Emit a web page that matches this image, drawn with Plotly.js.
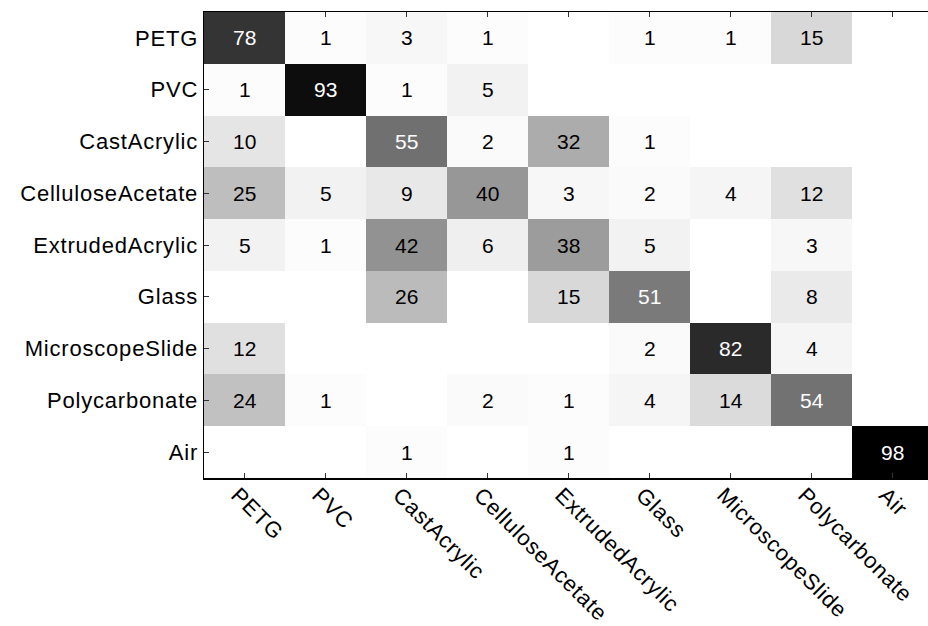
<!DOCTYPE html>
<html>
<head>
<meta charset="utf-8">
<script src="https://cdn.plot.ly/plotly-3.0.1.min.js"></script>
<style>
html,body{margin:0;padding:0;overflow:hidden;background:#fff;}
#chart{width:940px;height:626px;}
.xtick text, .ytick text{letter-spacing:0.8px;}
</style>
</head>
<body>
<div id="chart"></div>
<script>
const predicted = ["PETG","PVC","CastAcrylic","CelluloseAcetate","ExtrudedAcrylic","Glass","MicroscopeSlide","Polycarbonate","Air"];
const actual = ["PETG","PVC","CastAcrylic","CelluloseAcetate","ExtrudedAcrylic","Glass","MicroscopeSlide","Polycarbonate","Air"];
const rowPETG = [78,1,3,1,0,1,1,15,0];
const rowPVC = [1,93,1,5,0,0,0,0,0];
const rowCastAcrylic = [10,0,55,2,32,1,0,0,0];
const rowCelluloseAcetate = [25,5,9,40,3,2,4,12,0];
const rowExtrudedAcrylic = [5,1,42,6,38,5,0,3,0];
const rowGlass = [0,0,26,0,15,51,0,8,0];
const rowMicroscopeSlide = [12,0,0,0,0,2,82,4,0];
const rowPolycarbonate = [24,1,0,2,1,4,14,54,0];
const rowAir = [0,0,1,0,1,0,0,0,98];

const z = [rowPETG,rowPVC,rowCastAcrylic,rowCelluloseAcetate,rowExtrudedAcrylic,rowGlass,rowMicroscopeSlide,rowPolycarbonate,rowAir];

const FONT = "Liberation Sans, Arial, Helvetica, sans-serif";
const annotations = [];
z.forEach((row, i) => {
  row.forEach((v, j) => {
    if (v > 0) {
      annotations.push({
        x: predicted[j], y: actual[i], xref: 'x', yref: 'y',
        text: String(v), showarrow: false,
        font: {family: FONT, size: 21, color: v >= 50 ? '#ffffff' : '#000000'}
      });
    }
  });
});

const trace = {
  type: 'heatmap',
  x: predicted, y: actual, z: z,
  zmin: 0, zmax: 98,
  colorscale: [[0,'#ffffff'],[1,'#000000']],
  showscale: false,
  xgap: 0, ygap: 0,
  hoverinfo: 'skip'
};

const layout = {
  width: 940, height: 626,
  margin: {l: 204, r: 7, t: 12, b: 148},
  paper_bgcolor: '#ffffff', plot_bgcolor: '#ffffff',
  font: {family: FONT, size: 22, color: '#000000'},
  xaxis: {
    type: 'category', tickangle: 45,
    showline: true, linecolor: '#000000', linewidth: 1.5,
    mirror: 'ticks', ticks: 'inside', ticklen: 5, tickcolor: '#333333', tickwidth: 1,
    ticklabelshift: -7, ticklabelstandoff: -6,
    showgrid: false, zeroline: false, fixedrange: true,
    tickfont: {family: FONT, size: 22, color: '#000000'}
  },
  yaxis: {
    type: 'category', autorange: 'reversed',
    showline: true, linecolor: '#000000', linewidth: 1.5,
    mirror: false, ticks: 'inside', ticklen: 5, tickcolor: '#333333', tickwidth: 1,
    showgrid: false, zeroline: false, fixedrange: true,
    tickfont: {family: FONT, size: 22, color: '#000000'}
  },
  annotations: annotations,
  showlegend: false
};

Plotly.newPlot('chart', [trace], layout, {displayModeBar: false, staticPlot: true});
</script>
</body>
</html>
